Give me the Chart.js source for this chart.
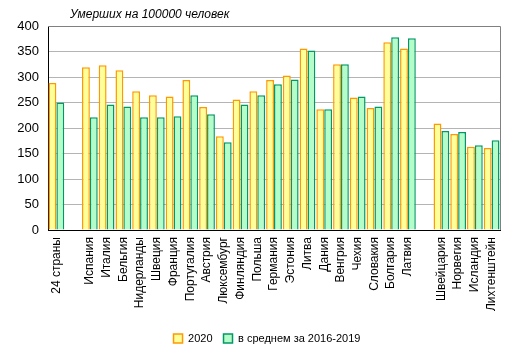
<!DOCTYPE html>
<html><head><meta charset="utf-8">
<script src="https://cdn.jsdelivr.net/npm/chart.js@4/dist/chart.umd.min.js"></script>
<style>html,body{margin:0;padding:0;background:#fff}#wrap{width:514px;height:354px}</style>
</head><body><div id="wrap"><canvas id="c" width="514" height="354"></canvas></div>
<script>
const categories = ['24 страны','', 'Испания','Италия','Бельгия','Нидерланды','Швеция','Франция','Португалия','Австрия','Люксембург','Финляндия','Польша','Германия','Эстония','Литва','Дания','Венгрия','Чехия','Словакия','Болгария','Латвия','', 'Швейцария','Норвегия','Исландия','Лихтенштейн'];
const values2020 = [288,null,319,323,313,272,264,262,294,241,184,256,272,294,303,356,237,325,260,239,368,356,null,209,188,163,161];
const valuesAvg  = [250,null,221,246,242,221,221,223,264,227,172,246,264,286,295,352,237,325,262,242,378,376,null,194,192,166,176];
const seriesNames = ['2020','в среднем за 2016-2019'];
const chartTitle = 'Умерших на 100000 человек';
const yTicks = {min:0,max:400,step:50};

const font = 'Liberation Sans, Arial, sans-serif';
const framePlugin = {
  id:'frame',
  afterLayout(chart){
    const lg = chart.legend;
    if (lg && !lg._shifted) { lg.left += 17; lg.right += 17; lg._shifted = true; }
  },
  afterDraw(chart){
    const {ctx, chartArea:a} = chart;
    ctx.save();
    ctx.strokeStyle = '#808080'; ctx.lineWidth = 1;
    ctx.beginPath();
    ctx.moveTo(a.left, a.top+0.5); ctx.lineTo(a.right+0.5, a.top+0.5); ctx.lineTo(a.right+0.5, a.bottom);
    ctx.stroke();
    ctx.fillStyle = '#000';
    ctx.font = 'italic 12px ' + font;
    ctx.textBaseline = 'middle';
    ctx.fillText(chartTitle, 70, 15);
    ctx.restore();
  }
};
new Chart(document.getElementById('c'), {
  type:'bar',
  data:{labels:categories, datasets:[
    {label:seriesNames[0], data:values2020, backgroundColor:'#FFFF99', borderColor:'#FF9900', borderWidth:1.5},
    {label:seriesNames[1], data:valuesAvg, backgroundColor:'#B4FCC8', borderColor:'#009966', borderWidth:1.5}
  ]},
  options:{
    responsive:false, animation:false,
    layout:{padding:{top:26,right:14,left:0,bottom:0}},
    datasets:{bar:{categoryPercentage:0.94, barPercentage:1.0}},
    plugins:{
      legend:{position:'bottom', labels:{boxWidth:9, boxHeight:9, padding:11, color:'#000', font:{family:font,size:11}}},
      tooltip:{enabled:false}
    },
    scales:{
      x:{
        grid:{display:false, drawTicks:false},
        border:{color:'#000', width:1},
        ticks:{color:'#000', font:{family:font,size:12}, minRotation:90, maxRotation:90, autoSkip:false, padding:7},
        afterFit(s){ s.height = 92; }
      },
      y:{
        min:yTicks.min, max:yTicks.max,
        grid:{color:(c)=> c.tick.value===0 ? '#000' : '#B4B4B4', drawTicks:false},
        border:{color:'#000', width:1},
        ticks:{stepSize:yTicks.step, color:'#000', font:{family:font,size:13}, padding:9},
        afterFit(s){ s.width = 48; }
      }
    }
  },
  plugins:[framePlugin]
});
</script></body></html>
